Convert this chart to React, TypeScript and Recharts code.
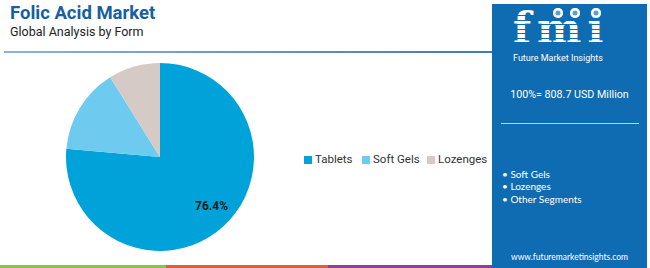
import React from "react";
import { PieChart, Pie, Cell } from "recharts";

const forms = ["Tablets", "Soft Gels", "Lozenges"];
const shares = [76.4, 14.7, 8.9];
const colors = ["#00a3d9", "#6ecbef", "#d6cac6"];
const legendX = [304, 362, 427];
const panelSegments = ["Soft Gels", "Lozenges", "Other Segments"];

const data = forms.map((name, i) => ({ name, value: shares[i] }));

const RAD = Math.PI / 180;

function renderLabel(props: any) {
  const { cx, cy, midAngle, outerRadius, index, value } = props;
  if (index !== 0) return null;
  const r = outerRadius * 0.75;
  const x = cx + r * Math.cos(-midAngle * RAD) + 4;
  const y = cy + r * Math.sin(-midAngle * RAD) - 3;
  return (
    <text x={x} y={y} textAnchor="middle" dominantBaseline="central" fill="#1a1a1a" fontSize={12} fontWeight={700} fontFamily="Roboto, sans-serif">
      {value.toFixed(1)}%
    </text>
  );
}

function LegendBox() {
  return (
    <>
      {forms.map((f, i) => (
        <div key={f} style={{ position: "absolute", left: legendX[i], top: 152, display: "flex", alignItems: "center", whiteSpace: "nowrap", fontSize: 11.5, lineHeight: "15px", color: "#333" }}>
          <span style={{ width: 8, height: 8, background: colors[i], display: "inline-block", marginRight: 3 }} />
          <span>{f}</span>
        </div>
      ))}
    </>
  );
}

export default function App() {
  return (
    <div style={{ position: "fixed", left: 0, top: 0, width: 650, height: 268, background: "#fff", overflow: "hidden", fontFamily: "Roboto, sans-serif" }}>
      <div style={{ position: "absolute", left: 10, top: 2, fontSize: 18.5, lineHeight: "22px", fontWeight: 700, color: "#17609f" }}>
        Folic Acid Market
      </div>
      <div style={{ position: "absolute", left: 10, top: 24, fontSize: 12.5, lineHeight: "15px", color: "#222" }}>
        Global Analysis by Form
      </div>
      <div style={{ position: "absolute", left: 4, top: 51, width: 490, height: 2, background: "linear-gradient(90deg, #8fb3d6, #3d7bb8)" }} />

      <div style={{ position: "absolute", left: 0, top: 52 }}>
        <PieChart width={300} height={210} margin={{ top: 0, right: 0, bottom: 0, left: 0 }}>
          <Pie
            data={data}
            dataKey="value"
            nameKey="name"
            cx={160}
            cy={105}
            outerRadius={94}
            startAngle={90}
            endAngle={-270}
            stroke="none"
            label={renderLabel}
            labelLine={false}
            isAnimationActive={false}
          >
            {data.map((d, i) => (
              <Cell key={d.name} fill={colors[i]} />
            ))}
          </Pie>
        </PieChart>
      </div>
      <LegendBox />

      <div style={{ position: "absolute", left: 0, top: 265, width: 166, height: 3, background: "#8bc34a" }} />
      <div style={{ position: "absolute", left: 166, top: 265, width: 162, height: 3, background: "#e0603a" }} />
      <div style={{ position: "absolute", left: 328, top: 265, width: 164, height: 3, background: "#8e3f9a" }} />

      <div style={{ position: "absolute", left: 492, top: 4, width: 155, height: 264, background: "#0f6cb2", color: "#fff" }}>
        <div style={{ position: "absolute", left: 21, top: 3.5, height: 42, fontFamily: "'DejaVu Serif', serif", fontSize: 42, fontWeight: 700, lineHeight: "42px", letterSpacing: 6 }}>
          fmi
        </div>
        {[0, 1, 2, 3, 4, 5, 6].map((k) => (
          <div key={k} style={{ position: "absolute", left: 18, top: 11 + k * 4.5, width: 104, height: 1.3, background: "#0f6cb2" }} />
        ))}
        {[66, 83, 104].map((x) => (
          <div key={x} style={{ position: "absolute", left: x - 5, top: 4, width: 10, height: 10, borderRadius: 5, background: "#fff", boxShadow: "inset 0 0 0 2.5px #fff, inset 0 0 0 5px #5e9fd3" }} />
        ))}
        <div style={{ position: "absolute", left: 21, top: 49, fontSize: 9, lineHeight: "11px", whiteSpace: "nowrap" }}>Future Market Insights</div>
        <div style={{ position: "absolute", left: 0, top: 84, width: 155, textAlign: "center", fontSize: 10.7, lineHeight: "14px" }}>
          100%= 808.7 USD Million
        </div>
        <div style={{ position: "absolute", left: 9, top: 119, width: 138, height: 1, background: "#b9d6ee" }} />
        <div style={{ position: "absolute", left: 10, top: 164, fontFamily: "Lato, sans-serif", fontSize: 10, lineHeight: "12px" }}>
          {panelSegments.map((s, i) => (
            <div key={s} style={{ marginTop: i === 2 ? 1 : 0 }}>• {s}</div>
          ))}
        </div>
        <div style={{ position: "absolute", left: 0, top: 248, width: 155, textAlign: "center", fontFamily: "Lato, sans-serif", fontSize: 8.5, lineHeight: "10px" }}>
          www.futuremarketinsights.com
        </div>
      </div>
    </div>
  );
}
